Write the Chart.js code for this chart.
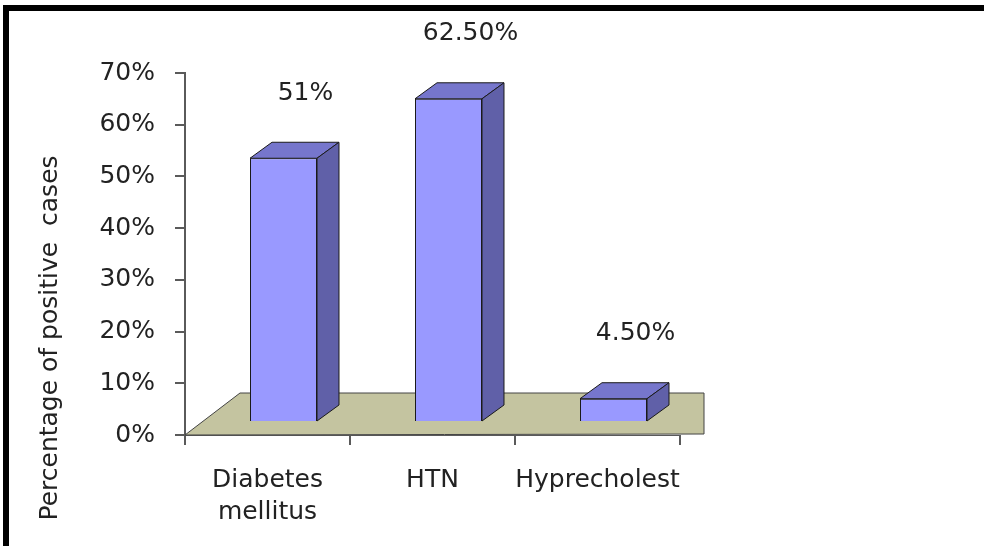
<!DOCTYPE html>
<html>
<head>
<meta charset="utf-8">
<script src="https://cdn.jsdelivr.net/npm/chart.js@4.4.1/dist/chart.umd.min.js"></script>
<style>
  html, body { margin: 0; padding: 0; background: #fff; }
  #wrap { width: 984px; height: 546px; position: relative; }
</style>
</head>
<body>
<div id="wrap"><canvas id="myChart"></canvas></div>
<script>
// categories and values (percent of positive cases)
var categories = [['Diabetes', 'mellitus'], 'HTN', 'Hyprecholest'];
var positiveRates = [51, 62.5, 4.5];
var yMin = 0, yMax = 70, yStep = 10;

var FONT = '"DejaVu Sans", Arial, sans-serif';
var TEXT = '#222';
var AXIS = '#5a5a5a';

// 3d look: front face shift and box depth
var front = { dx: 16, dy: -13 };
var depth = { dx: 22, dy: -16 };

function fmtPct(v) {
  return (Number.isInteger(v) ? v : v.toFixed(2)) + '%';
}

var box3d = {
  id: 'box3d',
  beforeDraw: function(chart) {
    var ctx = chart.ctx;
    ctx.save();
    ctx.fillStyle = '#fff';
    ctx.fillRect(0, 0, chart.width, chart.height);
    // outer frame
    ctx.strokeStyle = '#000';
    ctx.lineWidth = 6;
    ctx.strokeRect(6, 8, chart.width + 40, chart.height + 40);
    ctx.restore();
  },
  beforeDatasetsDraw: function(chart) {
    var ctx = chart.ctx, a = chart.chartArea;
    // floor
    ctx.save();
    ctx.beginPath();
    ctx.moveTo(a.left, a.bottom);
    ctx.lineTo(a.left + 55, a.bottom - 42);
    ctx.lineTo(a.right + 24, a.bottom - 42);
    ctx.lineTo(a.right + 24, a.bottom - 1);
    ctx.closePath();
    ctx.fillStyle = 'rgb(196,196,160)';
    ctx.fill();
    ctx.strokeStyle = '#444';
    ctx.lineWidth = 1;
    ctx.stroke();
    ctx.restore();
    // front faces get drawn by the library, shifted into the floor
    ctx.save();
    ctx.translate(front.dx, front.dy);
  },
  afterDatasetsDraw: function(chart) {
    var ctx = chart.ctx;
    ctx.restore();
    var meta = chart.getDatasetMeta(0);
    ctx.save();
    ctx.lineWidth = 1;
    ctx.strokeStyle = '#1a1a1a';
    meta.data.forEach(function(bar, i) {
      var p = bar.getProps(['x', 'y', 'base', 'width'], true);
      var x0 = p.x - p.width / 2 + front.dx, x1 = p.x + p.width / 2 + front.dx;
      var yt = p.y + front.dy, yb = p.base + front.dy;
      // top
      ctx.beginPath();
      ctx.moveTo(x0, yt);
      ctx.lineTo(x1, yt);
      ctx.lineTo(x1 + depth.dx, yt + depth.dy);
      ctx.lineTo(x0 + depth.dx, yt + depth.dy);
      ctx.closePath();
      ctx.fillStyle = 'rgb(118,118,204)';
      ctx.fill();
      ctx.stroke();
      // side
      ctx.beginPath();
      ctx.moveTo(x1, yt);
      ctx.lineTo(x1 + depth.dx, yt + depth.dy);
      ctx.lineTo(x1 + depth.dx, yb + depth.dy);
      ctx.lineTo(x1, yb);
      ctx.closePath();
      ctx.fillStyle = 'rgb(96,96,168)';
      ctx.fill();
      ctx.stroke();
      // value label
      ctx.fillStyle = TEXT;
      ctx.font = '25px ' + FONT;
      ctx.textAlign = 'center';
      ctx.textBaseline = 'middle';
      ctx.fillText(fmtPct(positiveRates[i]), (x0 + x1) / 2 + depth.dx, yt + depth.dy - 49);
    });
    // y axis title
    ctx.translate(50, 338);
    ctx.rotate(-Math.PI / 2);
    ctx.fillStyle = TEXT;
    ctx.font = '25px ' + FONT;
    ctx.textAlign = 'center';
    ctx.textBaseline = 'middle';
    ctx.fillText('Percentage of positive  cases', 0, 0);
    ctx.restore();
  }
};

var ctx = document.getElementById('myChart');
var myBarChart = new Chart(ctx, {
  type: 'bar',
  data: {
    labels: categories,
    datasets: [{
      data: positiveRates,
      backgroundColor: 'rgb(153,153,255)',
      borderColor: '#1a1a1a',
      borderWidth: 1,
      categoryPercentage: 1,
      barPercentage: 0.406
    }]
  },
  options: {
    responsive: true,
    maintainAspectRatio: false,
    animation: false,
    layout: { padding: { top: 73, right: 304, bottom: 0, left: 0 } },
    plugins: { legend: { display: false }, tooltip: { enabled: false } },
    scales: {
      x: {
        afterFit: function(s) { s.height = 111; },
        grid: { drawOnChartArea: false, tickLength: 10, color: AXIS, lineWidth: 2, offset: true },
        border: { color: AXIS },
        ticks: {
          color: TEXT,
          font: { family: FONT, size: 25, lineHeight: 1.28 },
          padding: 19,
          maxRotation: 0,
          autoSkip: false
        }
      },
      y: {
        min: yMin,
        max: yMax,
        afterFit: function(s) { s.width = 185; },
        grid: { drawOnChartArea: false, tickLength: 10, color: AXIS, lineWidth: 2 },
        border: { color: AXIS, width: 2 },
        ticks: {
          stepSize: yStep,
          color: TEXT,
          padding: 20,
          font: { family: FONT, size: 25 },
          callback: function(v) { return v + '%'; }
        }
      }
    }
  },
  plugins: [box3d]
});
</script>
</body>
</html>
